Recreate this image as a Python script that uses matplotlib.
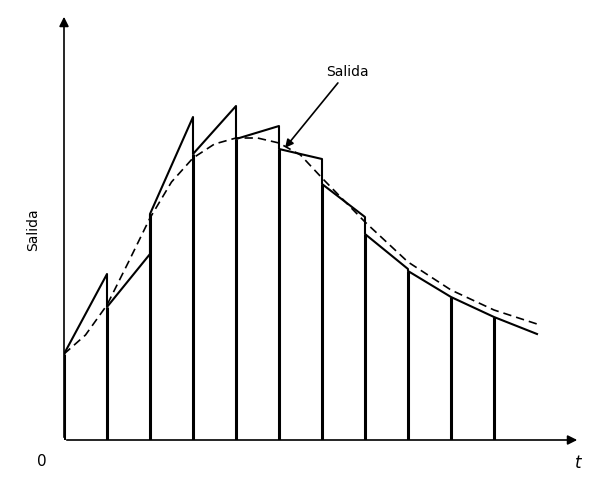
import matplotlib.pyplot as plt

# sample instants and sampled values
t_samp = [0, 1, 2, 3, 4, 5, 6, 7, 8, 9, 10]
s_vals = [86, 133, 226, 286, 301, 291, 256, 206, 169, 143, 123]
# value reached by each hold segment at the end of its interval
seg_end = [166, 186, 323, 334, 314, 281, 223, 171, 143, 123, 106]
# smooth output (dashed)
t_curve = [0, 0.5, 1, 1.5, 2, 2.5, 3, 3.5, 4, 4.5, 5, 5.5, 6, 7, 8, 9, 10, 11]
y_curve = [86, 105, 135, 178, 222, 258, 282, 296, 302, 302, 297, 285, 262, 218, 178, 150, 130, 116]

fig = plt.figure(figsize=(6.01, 4.89), dpi=100)
W, H = 601, 489
x0, y0 = 64, 441
ax = fig.add_axes([x0 / W, (H - y0) / H, (580 - x0) / W, (y0 - 15) / H])
ax.set_xlim(0, 12)
ax.set_ylim(0, 426)
ax.axis('off')

# axes with arrows
ax.annotate('', xy=(12, 0), xytext=(0, 0),
            arrowprops=dict(arrowstyle='-|>', color='black', lw=1.2, mutation_scale=14))
ax.annotate('', xy=(0, 426), xytext=(0, 0),
            arrowprops=dict(arrowstyle='-|>', color='black', lw=1.2, mutation_scale=14))

# stems
for t, s in zip(t_samp, s_vals):
    ax.plot([t, t], [0, s], color='black', lw=2.2, solid_capstyle='butt')

# hold output
xs, ys = [], []
for t, s, e in zip(t_samp, s_vals, seg_end):
    xs += [t, t + 1]
    ys += [s, e]
ax.plot(xs, ys, color='black', lw=1.5)

ax.plot(t_curve, y_curve, color='black', lw=1.2, ls=(0, (5, 3)))

ax.annotate('Salida', xy=(5.1, 290), xytext=(6.1, 365), fontsize=10,
            arrowprops=dict(arrowstyle='-|>', color='black', lw=1.2, mutation_scale=12))

fig.text(33 / W, 1 - 230 / H, 'Salida', rotation=90, ha='center', va='center', fontsize=10)
fig.text(42 / W, 1 - 462 / H, '0', ha='center', va='center', fontsize=11)
fig.text(578 / W, 1 - 463 / H, 't', ha='center', va='center', fontsize=12, style='italic')

fig.savefig('out.png', dpi=100, facecolor='white')
